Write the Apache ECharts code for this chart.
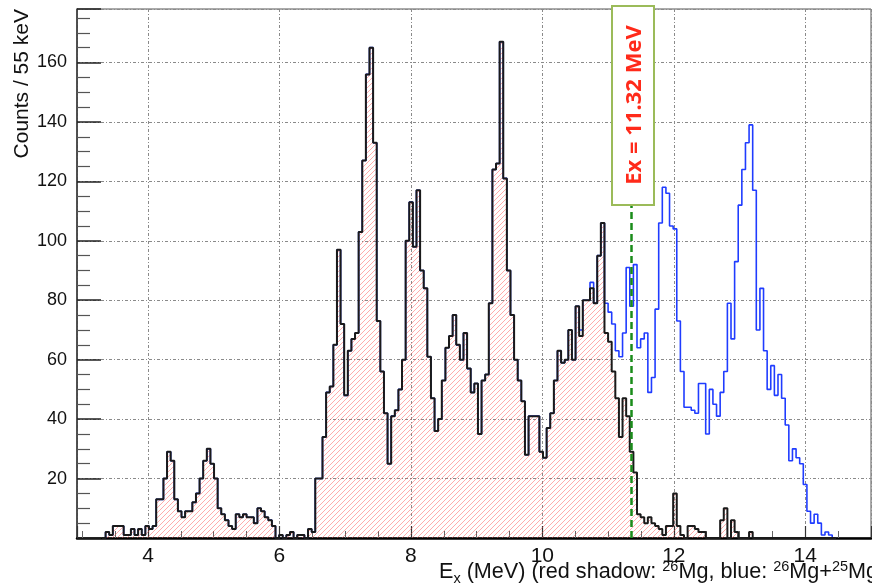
<!DOCTYPE html>
<html>
<head>
<meta charset="utf-8">
<script src="https://cdn.jsdelivr.net/npm/echarts@6/dist/echarts.min.js"></script>
<style>
html,body{margin:0;padding:0;overflow:hidden;background:#fff;}
#chart{width:874px;height:588px;}
</style>
</head>
<body>
<div id="chart"></div>
<script>
// ---------------- data ----------------
const binStart = 3.30;   // MeV, left edge of the first listed bin
const binWidth = 0.055;  // MeV (55 keV bins)

// red shadow: 26Mg
const mg26Counts = [
  0,2,1,4,4,4,1,1,3,1,
  3,1,4,3,4,13,13,20,29,26,
  13,9,7,9,9,12,15,20,26,30,
  25,20,10,8,6,4,3,8,7,8,
  7,7,5,10,9,7,6,4,0,1,
  0,1,2,0,1,1,0,3,2,20,
  20,34,49,51,65,97,72,48,63,67,
  69,103,127,156,165,133,73,56,42,25,
  41,43,50,60,100,113,98,117,90,84,
  61,47,36,40,53,64,68,75,65,60,
  69,57,49,52,35,53,55,79,124,126,
  167,121,90,75,60,53,46,28,41,41,
  41,29,27,37,42,53,63,59,60,70,
  60,78,68,80,80,84,79,95,106,69,
  66,56,47,34,47,41,29,22,8,7,
  5,7,5,4,3,1,4,4,15,4,
  1,0,4,4,3,2,2,0,0,0,
  0,6,10,0,6,2,0,0,0,2,
  0,0,0,0,0,0,0,0,0,0,
  0,0,0,0,0,0,0,0,0,0,
  0,0,0
];

// blue: 26Mg + 25Mg
const mgSumCounts = [
  0,2,1,4,4,4,1,1,3,1,
  3,1,4,3,4,13,13,20,29,26,
  13,9,7,9,9,12,15,20,26,30,
  25,20,10,8,6,4,3,8,7,8,
  7,7,5,10,9,7,6,4,0,1,
  0,1,2,0,1,1,0,3,2,20,
  20,34,49,51,65,97,72,48,63,67,
  69,103,127,156,165,133,73,56,42,25,
  41,43,50,60,100,113,98,117,90,84,
  61,47,36,40,53,64,68,75,65,60,
  69,57,49,52,35,53,55,79,124,126,
  167,121,90,75,60,53,46,28,41,41,
  41,29,27,37,42,53,63,59,60,70,
  60,78,70,80,80,86,79,95,106,79,
  76,72,63,61,69,91,78,92,64,67,
  69,49,54,77,106,118,116,105,104,73,
  56,44,44,43,42,52,52,35,50,45,
  41,49,56,79,67,93,112,124,133,139,
  117,70,84,63,50,58,48,55,47,38,
  26,30,27,25,18,9,5,8,5,1,
  2,1,0
];

const xTickLabels = [4, 6, 8, 10, 12, 14];
const yTickLabels = [20, 40, 60, 80, 100, 120, 140, 160];
const exMarker = 11.35;          // position of the dashed marker line (MeV)
const exMarkerText = 'Ex = 11.32 MeV';
const yTitle = 'Counts / 55 keV';

// ---------------- helpers ----------------
function toSteps(counts) {
  const pts = [];
  for (let i = 0; i < counts.length; i++) {
    pts.push([+(binStart + i * binWidth).toFixed(4), counts[i]]);
  }
  pts.push([+(binStart + counts.length * binWidth).toFixed(4), 0]);
  return pts;
}

const hatch = document.createElement('canvas');
hatch.width = 5; hatch.height = 5;
(function () {
  const c = hatch.getContext('2d');
  c.strokeStyle = 'rgba(255,70,70,0.45)';
  c.lineWidth = 1;
  c.beginPath();
  c.moveTo(0, 5); c.lineTo(5, 0);
  c.moveTo(-1, 1); c.lineTo(1, -1);
  c.moveTo(4, 6); c.lineTo(6, 4);
  c.stroke();
})();

const FONT = '"Liberation Sans", Arial, Helvetica, sans-serif';

const chart = echarts.init(document.getElementById('chart'), null, {renderer: 'canvas'});
chart.setOption({
  animation: false,
  backgroundColor: '#fff',
  grid: {left: 77, right: 0, top: 9, bottom: 50, show: true, borderColor: '#555', borderWidth: 1, backgroundColor: 'transparent'},
  xAxis: {
    type: 'value', min: 2.92, max: 15, minInterval: 2, maxInterval: 2,
    axisLine: {show: true, onZero: false, lineStyle: {color: '#000', width: 2.5}},
    axisTick: {show: true, inside: true, length: 12, lineStyle: {color: '#333', width: 1.2}},
    minorTick: {show: true, splitNumber: 4, length: 7, lineStyle: {color: '#666', width: 1}},
    splitLine: {show: true, lineStyle: {color: '#8a8a8a', type: [3, 2, 1, 2], width: 1}},
    minorSplitLine: {show: false},
    axisLabel: {
      formatter: v => (xTickLabels.indexOf(Math.round(v * 1000) / 1000) >= 0 ? String(Math.round(v)) : ''),
      fontFamily: FONT, fontSize: 21, color: '#111', margin: 8
    }
  },
  yAxis: {
    type: 'value', min: 0, max: 178, minInterval: 20, maxInterval: 20,
    axisLine: {show: true, onZero: false, lineStyle: {color: '#333', width: 1.5}},
    axisTick: {show: true, inside: true, length: 24, lineStyle: {color: '#222', width: 1.5}},
    minorTick: {show: true, splitNumber: 4, length: 13, lineStyle: {color: '#555', width: 1.2}},
    splitLine: {show: true, lineStyle: {color: '#8a8a8a', type: [3, 2, 1, 2], width: 1}},
    axisLabel: {
      formatter: v => (yTickLabels.indexOf(Math.round(v)) >= 0 && Math.abs(v - Math.round(v)) < 1e-6 ? String(Math.round(v)) : ''),
      fontFamily: FONT, fontSize: 18, color: '#111', margin: 10
    }
  },
  series: [
    {
      type: 'line', name: 'sum', data: toSteps(mgSumCounts), step: 'end',
      symbol: 'none', showSymbol: false, z: 2,
      lineStyle: {color: '#1f3cff', width: 1.6}
    },
    {
      type: 'line', name: 'mg26', data: toSteps(mg26Counts), step: 'end',
      symbol: 'none', showSymbol: false, z: 3,
      lineStyle: {color: '#1a1a1a', width: 2},
      areaStyle: {color: {image: hatch, repeat: 'repeat'}, opacity: 1},
      markLine: {
        silent: true, symbol: 'none', animation: false,
        lineStyle: {color: '#1a8c1a', type: [7, 4], width: 2.5},
        label: {show: false},
        data: [{xAxis: exMarker}]
      }
    }
  ],
  graphic: [
    {type: 'rect', z: 100, shape: {x: 612, y: 6, width: 42, height: 199},
     style: {fill: '#fff', stroke: '#9bbb59', lineWidth: 2}},
    {type: 'text', z: 101, x: 635, y: 105, rotation: Math.PI / 2,
     style: {text: exMarkerText, fill: '#ff2a1a', font: 'bold 22px "Open Sans", "Noto Sans", sans-serif', align: 'center', verticalAlign: 'middle'}},
    {type: 'text', z: 101, x: 22, y: 9, rotation: Math.PI / 2,
     style: {text: yTitle, fill: '#111', font: '21px ' + FONT, align: 'right', verticalAlign: 'middle'}},
    {type: 'text', z: 101, x: 439, y: 559,
     style: {
       text: '{n|E}{sub|x}{n| (MeV) (red shadow: }{sup|26}{n|Mg, blue: }{sup|26}{n|Mg+}{sup|25}{n|Mg)}',
       align: 'left', verticalAlign: 'top',
       rich: {
         n: {fontSize: 21.6, fontFamily: FONT, fill: '#111', lineHeight: 27},
         sub: {fontSize: 14.5, fontFamily: FONT, fill: '#111', verticalAlign: 'bottom'},
         sup: {fontSize: 14.5, fontFamily: FONT, fill: '#111', verticalAlign: 'top'}
       }
     }}
  ]
});
</script>
</body>
</html>
